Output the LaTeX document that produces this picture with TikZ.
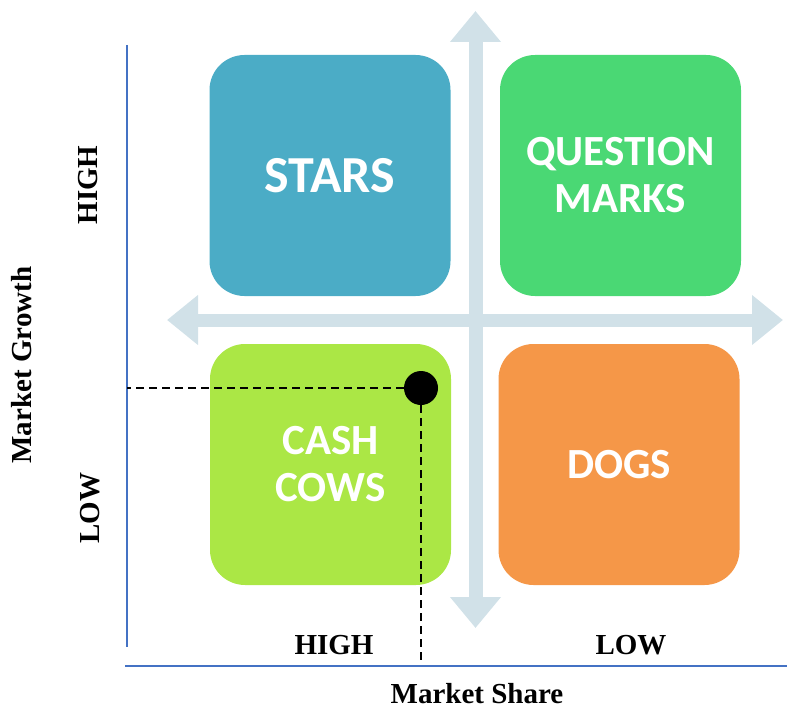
\documentclass[tikz,border=0pt]{standalone}
\usepackage{fontspec}
\setmainfont{Liberation Serif}
\newfontfamily\boxfont{Carlito}
\usetikzlibrary{arrows.meta}
\definecolor{starsblue}{rgb}{0.294,0.675,0.776}
\definecolor{markgreen}{rgb}{0.290,0.847,0.455}
\definecolor{cowlime}{rgb}{0.671,0.906,0.271}
\definecolor{dogorange}{rgb}{0.961,0.592,0.282}
\definecolor{axisgrey}{rgb}{0.820,0.882,0.910}
\definecolor{axisblue}{rgb}{0.267,0.447,0.769}
\tikzset{
  quadrant/.style={rounded corners=35pt,minimum width=241pt,minimum height=241pt,
    text=white,align=center,font=\boxfont\bfseries\fontsize{43}{47}\selectfont,inner sep=0pt},
  lbl/.style={font=\bfseries\fontsize{29}{31}\selectfont,inner sep=0pt},
}

\begin{document}
\begin{tikzpicture}[line cap=butt,line join=miter,x=1pt,y=-1pt]
\useasboundingbox (0,0) rectangle (787,709);
% cross arrows
\draw [axisgrey,line width=14pt,{Triangle[width=49pt,length=31pt]}-{Triangle[width=49pt,length=31pt]}] (475.5,11) -- (475.5,628);
\draw [axisgrey,line width=13pt,{Triangle[width=48pt,length=31pt]}-{Triangle[width=48pt,length=31pt]}] (167,320) -- (783,320);
% quadrants
\node [quadrant,fill=starsblue,font=\boxfont\bfseries\fontsize{52}{54}\selectfont] (stars) at (330,175.5) {STARS};
\node [quadrant,fill=markgreen] (qmarks) at (620.5,175.5) {QUESTION\\MARKS};
\node [quadrant,fill=cowlime] (cows) at (330.5,464.5) {CASH\\COWS};
\node [quadrant,fill=dogorange] (dogs) at (619,464.5) {DOGS};
% axes
\draw [axisblue,line width=1.5pt] (127,45) -- (127,647);
\draw [axisblue,line width=1.5pt] (125,666) -- (787,666);
% position of the product
\node [circle,fill=black,minimum size=34pt,inner sep=0pt] (pos) at (421,388) {};
\coordinate (gpos) at (127,388);
\coordinate (spos) at (421,660);
\draw [line width=2pt,dash pattern=on 8pt off 5pt] (pos) -- (gpos);
\draw [line width=2pt,dash pattern=on 8pt off 5pt] (pos) -- (spos);
% labels
\node [lbl,rotate=90] (ghigh) at (88,185) {HIGH};
\node [lbl,rotate=90] (glow) at (90,508) {LOW};
\node [lbl,rotate=90] (growth) at (22,365) {Market Growth};
\node [lbl] (shigh) at (334,645) {HIGH};
\node [lbl] (slow) at (631,645) {LOW};
\node [lbl] (share) at (477,694) {Market Share};
\end{tikzpicture}
\end{document}
